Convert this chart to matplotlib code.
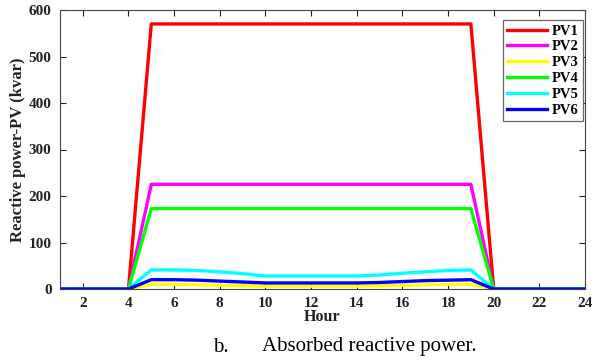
import matplotlib.pyplot as plt

# Hourly absorbed reactive power per PV unit (kvar)
hours = list(range(1, 25))
pv1 = [0, 0, 0, 0, 570, 570, 570, 570, 570, 570, 570, 570, 570, 570, 570, 570, 570, 570, 570, 0, 0, 0, 0, 0]
pv2 = [0, 0, 0, 0, 225, 225, 225, 225, 225, 225, 225, 225, 225, 225, 225, 225, 225, 225, 225, 0, 0, 0, 0, 0]
pv3 = [0, 0, 0, 0, 10, 10, 9, 8, 7, 6, 6, 6, 6, 6, 7, 8, 9, 10, 10, 0, 0, 0, 0, 0]
pv4 = [0, 0, 0, 0, 173, 173, 173, 173, 173, 173, 173, 173, 173, 173, 173, 173, 173, 173, 173, 0, 0, 0, 0, 0]
pv5 = [0, 0, 0, 0, 41, 41, 40, 37, 33, 28, 28, 28, 28, 28, 30, 34, 37, 40, 41, 0, 0, 0, 0, 0]
pv6 = [0, 0, 0, 0, 20, 20, 19, 17, 15, 13, 13, 13, 13, 13, 14, 16, 18, 19, 20, 0, 0, 0, 0, 0]

names = ['PV1', 'PV2', 'PV3', 'PV4', 'PV5', 'PV6']
colors = ['#ff0000', '#ff00ff', '#ffff00', '#00ff00', '#00ffff', '#0000ff']
series = [pv1, pv2, pv3, pv4, pv5, pv6]

plt.rcParams['font.family'] = 'Liberation Serif'
plt.rcParams['font.weight'] = 'bold'

fig = plt.figure(figsize=(5.96, 3.6), dpi=100)
ax = fig.add_axes([60 / 596, 71 / 360, 525 / 596, 279 / 360])

for vals, c, n in zip(series, colors, names):
    ax.plot(hours, vals, color=c, lw=2.4, label=n)

ax.set_xlim(1, 24)
ax.set_ylim(0, 600)
ax.set_xticks(range(2, 25, 2))
ax.set_yticks(range(0, 601, 100))
ax.tick_params(direction='in', top=True, right=True, labelsize=11, length=4,
               color='#222222', labelcolor='#222222')
ax.tick_params(axis='x', pad=6)
ax.tick_params(axis='y', pad=6)
for lab in ax.get_xticklabels() + ax.get_yticklabels():
    lab.set_fontweight('bold')
for s in ax.spines.values():
    s.set_color('#444444')
    s.set_linewidth(0.8)

ax.set_xlabel('Hour', fontsize=11.5, fontweight='bold', labelpad=-1, color='#222222')
ax.set_ylabel('Reactive power-PV (kvar)', fontsize=12, fontweight='bold', labelpad=2, color='#222222')

leg = ax.legend(loc='upper right', prop={'weight': 'bold', 'size': 10.5},
                handlelength=2.7, fancybox=False, edgecolor='#666666',
                borderpad=0.3, labelspacing=0.18, handletextpad=0.35,
                borderaxespad=0, bbox_to_anchor=(0.996, 0.964), framealpha=1)
leg.get_frame().set_linewidth(0.9)

fig.text(213 / 596, 13 / 360, 'b.', fontsize=15, fontweight='normal', va='center')
fig.text(262 / 596, 13 / 360, 'Absorbed reactive power.', fontsize=15, fontweight='normal', va='center')

fig.savefig('out.png', dpi=100)
